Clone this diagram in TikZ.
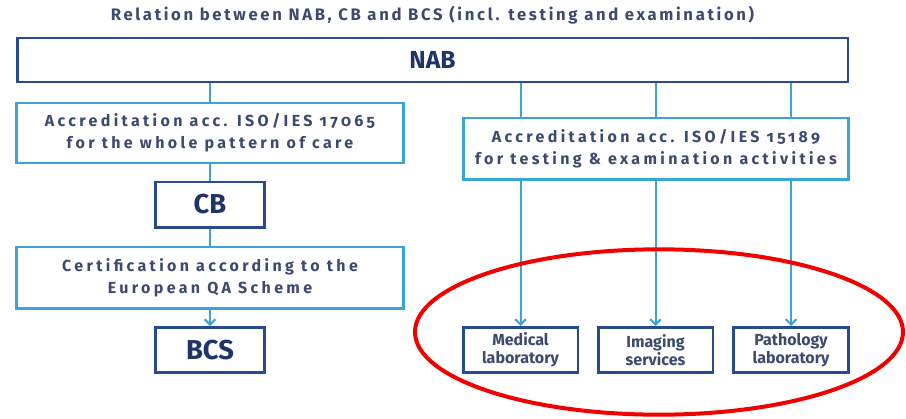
\documentclass[tikz,border=0pt]{standalone}
\usepackage{fontspec}
\setmainfont{Fira Sans}
\newfontfamily\widefont[LetterSpace=21,Numbers=OldStyle]{Fira Sans}
\newfontfamily\titlefont[LetterSpace=16]{Fira Sans}
\usetikzlibrary{arrows.meta,shapes.geometric}
\definecolor{navy}{HTML}{284A8E}
\definecolor{navytext}{HTML}{1F3468}
\definecolor{sky}{HTML}{3AA5D5}
\definecolor{slate}{HTML}{3B4A6E}
\definecolor{marker}{HTML}{F20000}
\tikzset{
	darkbox/.style={draw=navy,line width=2pt,fill=white,inner sep=0pt,text=navytext,align=center},
	lightbox/.style={draw=sky,line width=2pt,fill=white,inner sep=0pt,text=slate,align=center,font=\widefont\bfseries\fontsize{12}{16.5}\selectfont},
	smallbox/.style={darkbox,minimum width=86pt,minimum height=34pt,text=slate,font=\fontsize{12}{13.5}\selectfont\bfseries},
	link/.style={draw=sky,line width=1.5pt},
	tip/.style={-{Straight Barb[length=4pt,width=8pt]}}
}

\begin{document}
\begin{tikzpicture}[x=0.75pt,y=-0.75pt]
				\useasboundingbox (0,0) rectangle (906,418);
				
				\node[text=slate,font=\titlefont\bfseries\fontsize{12.5}{14}\selectfont] (title) at (432.5,15) {Relation between NAB, CB and BCS (incl. testing and examination)};
				
				\node[darkbox,minimum width=623pt,minimum height=33pt,font=\fontsize{18.5}{20}\selectfont\bfseries] (nab) at (432.5,60) {NAB};
				
				\node[lightbox,minimum width=290pt,minimum height=45pt] (acc1) at (210,133) {Accreditation acc. ISO/IES 17065\\ for the whole pattern of care};
				\node[darkbox,minimum width=82pt,minimum height=34pt,font=\fontsize{20.5}{22}\selectfont\bfseries] (cb) at (210,204.5) {CB};
				\node[lightbox,minimum width=290pt,minimum height=46pt] (cert) at (210,277.5) {Certification according to the\\ European QA Scheme};
				\node[darkbox,minimum width=82pt,minimum height=34pt,font=\fontsize{20.5}{22}\selectfont\bfseries] (bcs) at (210,350) {BCS};
				
				\node[lightbox,minimum width=289pt,minimum height=46pt] (acc2) at (656,148.5) {Accreditation acc. ISO/IES 15189\\ for testing \& examination activities};
				\node[smallbox] (med) at (520.5,350) {Medical\\ laboratory};
				\node[smallbox] (img) at (655.5,350) {Imaging\\ services};
				\node[smallbox] (path) at (791,350) {Pathology\\ laboratory};
				
				\draw[link] (acc1.north |- nab.south) -- (acc1.north);
				\draw[link] (acc1.south) -- (cb.north);
				\draw[link] (cb.south) -- (cert.north);
				\draw[link,tip] (cert.south) -- (bcs.north);
				
				\draw[link] (med.north |- nab.south) -- (med.north |- acc2.north);
				\draw[link] (img.north |- nab.south) -- (img.north |- acc2.north);
				\draw[link] (path.north |- nab.south) -- (path.north |- acc2.north);
				\draw[link,tip] (med.north |- acc2.south) -- (med.north);
				\draw[link,tip] (img.north |- acc2.south) -- (img.north);
				\draw[link,tip] (path.north |- acc2.south) -- (path.north);
				
				\node[draw=marker,line width=3pt,ellipse,inner sep=0pt,minimum width=366pt,minimum height=124pt] (ring) at (659,332) {};
			\end{tikzpicture}
\end{document}
